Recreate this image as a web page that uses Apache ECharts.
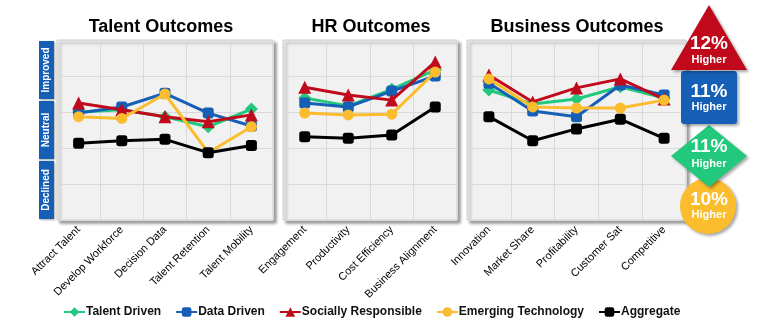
<!DOCTYPE html>
<html>
<head>
<meta charset="utf-8">
<script src="https://cdn.jsdelivr.net/npm/echarts@6/dist/echarts.min.js"></script>
<style>
  html, body { margin: 0; padding: 0; background: #fff; }
  #chart { width: 764px; height: 332px; }
</style>
</head>
<body>
<div id="chart"></div>
<script>
// Panel titles and categories
const panelTitles = ['Talent Outcomes', 'HR Outcomes', 'Business Outcomes'];
const talentCats = ['Attract Talent', 'Develop Workforce', 'Decision Data', 'Talent Retention', 'Talent Mobility'];
const hrCats = ['Engagement', 'Productivity', 'Cost Efficiency', 'Business Alignment'];
const businessCats = ['Innovation', 'Market Share', 'Profitability', 'Customer Sat', 'Competitive'];
const levelLabels = ['Declined', 'Neutral', 'Improved'];

// Series names (legend order)
const seriesNames = ['Talent Driven', 'Data Driven', 'Socially Responsible', 'Emerging Technology', 'Aggregate'];

// Scores on a 0-5 scale, one array per series and panel
const talentDriven = {
  talent: [3.00, 3.06, 2.87, 2.59, 3.08],
  hr: [3.39, 3.17, 3.63, 4.17],
  business: [3.61, 3.22, 3.36, 3.70, 3.39]
};
const dataDriven = {
  talent: [2.97, 3.14, 3.52, 2.97, 2.61],
  hr: [3.25, 3.14, 3.58, 4.00],
  business: [3.80, 3.03, 2.87, 3.75, 3.47]
};
const sociallyResponsible = {
  talent: [3.25, 3.06, 2.87, 2.73, 2.92],
  hr: [3.69, 3.47, 3.33, 4.39],
  business: [4.03, 3.28, 3.67, 3.92, 3.36]
};
const emergingTechnology = {
  talent: [2.87, 2.82, 3.50, 1.87, 2.59],
  hr: [2.97, 2.92, 2.94, 4.11],
  business: [3.92, 3.14, 3.11, 3.11, 3.33]
};
const aggregate = {
  talent: [2.13, 2.20, 2.24, 1.87, 2.07],
  hr: [2.31, 2.27, 2.36, 3.14],
  business: [2.87, 2.20, 2.53, 2.80, 2.27]
};

// Badge texts
const badgeValues = ['12%', '11%', '11%', '10%'];
const badgeSub = 'Higher';

const colors = ['#22c97c', '#165fb6', '#c00a1b', '#fbbd2e', '#000000'];
const symbols = ['diamond', 'roundRect', 'triangle', 'circle', 'roundRect'];
const symbolSizes = [13, 11, 13, 11, 11];
const seriesData = [talentDriven, dataDriven, sociallyResponsible, emergingTechnology, aggregate];
const panelKeys = ['talent', 'hr', 'business'];
const panelCats = [talentCats, hrCats, businessCats];

const grids = [
  { left: 57, top: 40, width: 216, height: 180 },
  { left: 283, top: 40, width: 174, height: 180 },
  { left: 467, top: 40, width: 219, height: 180 }
].map(g => Object.assign(g, {
  show: true,
  backgroundColor: '#f1f1f1',
  borderColor: '#cfcfcf',
  borderWidth: 1,
  shadowColor: 'rgba(0,0,0,0.4)',
  shadowBlur: 3,
  shadowOffsetX: 3,
  shadowOffsetY: 3
}));

const xAxes = panelCats.map((cats, i) => ({
  type: 'category',
  gridIndex: i,
  data: cats,
  boundaryGap: true,
  axisLine: { show: false },
  axisTick: { show: false },
  splitLine: { show: true, lineStyle: { color: '#d9d9d9', width: 1 } },
  axisLabel: {
    interval: 0, rotate: 45, margin: 8,
    fontFamily: 'Liberation Sans, Arial, sans-serif',
    fontSize: 11, color: '#000'
  }
}));

const yAxes = panelCats.map((c, i) => ({
  type: 'value',
  gridIndex: i,
  position: 'right',
  min: 0, max: 5, interval: 1,
  axisLine: { show: false },
  axisTick: { show: false },
  axisLabel: { show: false },
  splitLine: { show: true, lineStyle: { color: '#d9d9d9', width: 1 } }
}));
// Blue level tags down the left side of the first panel
yAxes.push({
  type: 'category',
  gridIndex: 0,
  position: 'left',
  data: levelLabels,
  boundaryGap: true,
  axisLine: { show: false },
  axisTick: { show: false },
  splitLine: { show: false },
  axisLabel: {
    interval: 0,
    rotate: 90,
    margin: 3,
    color: '#ffffff',
    fontWeight: 'bold',
    fontSize: 10,
    fontFamily: 'Liberation Sans, Arial, sans-serif',
    backgroundColor: '#165fb6',
    width: 58,
    height: 15,
    lineHeight: 15,
    shadowColor: 'rgba(0,0,0,0.35)',
    shadowBlur: 2,
    shadowOffsetX: 1,
    shadowOffsetY: 1
  }
});

const series = [];
panelKeys.forEach((key, p) => {
  seriesNames.forEach((name, s) => {
    series.push({
      type: 'line',
      name: name,
      xAxisIndex: p,
      yAxisIndex: p,
      data: seriesData[s][key],
      symbol: symbols[s],
      symbolSize: symbolSizes[s],
      showAllSymbol: true,
      z: 2 + s,
      lineStyle: { color: colors[s], width: 3 },
      itemStyle: { color: colors[s], borderWidth: 0 },
      emphasis: { disabled: true },
      animation: false
    });
  });
});

const titleCenters = [161, 371, 577];
const graphics = panelTitles.map((t, i) => ({
  type: 'text',
  x: titleCenters[i],
  y: 27,
  style: {
    text: t, textAlign: 'center', textVerticalAlign: 'middle',
    font: 'bold 18px "Liberation Sans", Arial, sans-serif', fill: '#000'
  }
}));

// Badges stacked on the right
const badgeShadow = { shadowColor: 'rgba(0,0,0,0.35)', shadowBlur: 3, shadowOffsetX: 2, shadowOffsetY: 2 };
graphics.push(
  { type: 'circle', shape: { cx: 708, cy: 206, r: 28 }, style: Object.assign({ fill: colors[3] }, badgeShadow), z: 10 },
  { type: 'polygon', shape: { points: [[671, 156], [709, 125], [747, 156], [709, 187]] }, style: Object.assign({ fill: colors[0] }, badgeShadow), z: 11 },
  { type: 'rect', shape: { x: 681, y: 71, width: 56, height: 53, r: 3 }, style: Object.assign({ fill: colors[1] }, badgeShadow), z: 12 },
  { type: 'polygon', shape: { points: [[709, 5], [747, 70], [671, 70]] }, style: Object.assign({ fill: colors[2] }, badgeShadow), z: 13 }
);
const badgeTextY = [[44, 60], [92, 107], [147, 164], [200, 215]];
badgeValues.forEach((v, i) => {
  graphics.push({
    type: 'text', x: 709, y: badgeTextY[i][0], z: 20,
    style: { text: v, textAlign: 'center', textVerticalAlign: 'middle', fill: '#fff',
      font: 'bold 19px "Liberation Sans", Arial, sans-serif' }
  });
  graphics.push({
    type: 'text', x: 709, y: badgeTextY[i][1], z: 20,
    style: { text: badgeSub, textAlign: 'center', textVerticalAlign: 'middle', fill: '#fff',
      font: 'bold 11px "Liberation Sans", Arial, sans-serif' }
  });
});

const chart = echarts.init(document.getElementById('chart'), null, { renderer: 'canvas' });
chart.setOption({
  animation: false,
  backgroundColor: '#ffffff',
  grid: grids,
  xAxis: xAxes,
  yAxis: yAxes,
  legend: {
    data: seriesNames,
    left: 58,
    top: 301,
    itemWidth: 21,
    itemHeight: 12,
    itemGap: 14,
    textStyle: {
      fontSize: 12, fontWeight: 'bold', color: '#111',
      fontFamily: 'Liberation Sans, Arial, sans-serif',
      padding: [0, 0, 0, -4]
    }
  },
  series: series,
  graphic: graphics
});
</script>
</body>
</html>
